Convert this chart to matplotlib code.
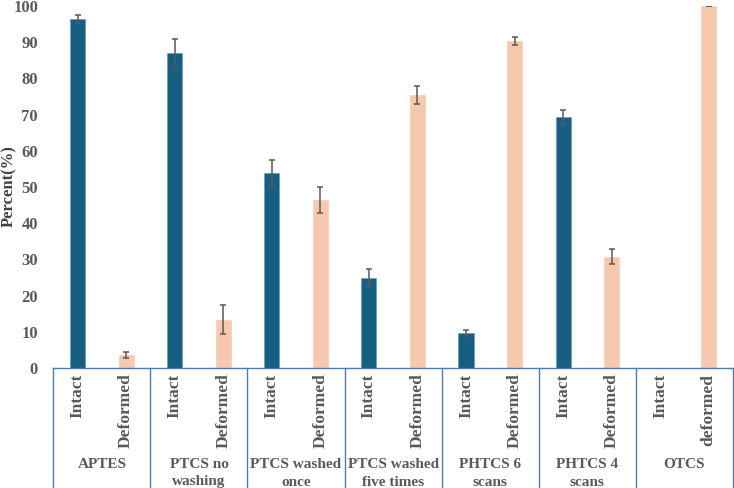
import numpy as np
import matplotlib.pyplot as plt

plt.rcParams['font.family'] = ['Liberation Serif', 'DejaVu Serif']

groups = ['APTES', 'PTCS no\nwashing', 'PTCS washed\nonce', 'PTCS washed\nfive times',
          'PHTCS 6\nscans', 'PHTCS 4\nscans', 'OTCS']
states = ['Intact', 'Deformed', 'Intact', 'Deformed', 'Intact', 'Deformed', 'Intact', 'Deformed',
          'Intact', 'Deformed', 'Intact', 'Deformed', 'Intact', 'deformed']
intact = [96.4, 86.9, 53.9, 24.9, 9.7, 69.4, 0]
intact_err = [1.0, 4.0, 3.6, 2.5, 0.9, 1.9, 0]
deformed = [3.7, 13.3, 46.3, 75.4, 90.4, 30.8, 100]
deformed_err = [0.85, 4.0, 3.6, 2.5, 1.1, 2.0, 0]

blue = '#175F82'
peach = '#F7C8AD'
line_col = '#4A7EA8'
grey = '#595959'

fig = plt.figure(figsize=(7.34, 4.88), dpi=100)
ax = fig.add_axes([53.3 / 734, 120 / 488, (733 - 53.3) / 734, 362 / 488])

n = len(groups)
x_int = np.arange(n) * 2 + 0.5
x_def = np.arange(n) * 2 + 1.5
w = 0.31
ax.bar(x_int, intact, w, color=blue, edgecolor='#5a9ac0', linewidth=0.4)
ax.bar(x_def, deformed, w, color=peach, edgecolor=peach, linewidth=0.4)

# error bars (skip the empty OTCS intact bar)
xs = np.concatenate([x_int, x_def])
ys = np.array(intact + deformed)
es = np.array(intact_err + deformed_err)
keep = ys > 0
ax.errorbar(xs[keep], ys[keep], yerr=es[keep], fmt='none', ecolor=grey,
            elinewidth=1.1, capsize=2.5, capthick=1.1)

ax.set_xlim(0, 2 * n)
ax.set_ylim(0, 100)
ax.set_yticks(range(0, 101, 10))
ax.tick_params(axis='y', length=0, pad=11, labelsize=12, labelcolor=grey)
for t in ax.get_yticklabels():
    t.set_fontweight('bold')

ax.set_xticks(np.arange(2 * n) + 0.5)
ax.set_xticklabels(states, rotation=90, fontsize=12.5, fontweight='bold', color=grey)
ax.tick_params(axis='x', length=0, pad=4)

for s in ['top', 'right', 'left']:
    ax.spines[s].set_visible(False)
ax.spines['bottom'].set_color(line_col)
ax.spines['bottom'].set_linewidth(1.0)

# group separators below the axis
trans = ax.get_xaxis_transform()
for i in range(n + 1):
    ax.plot([2 * i, 2 * i], [0, -0.35], transform=trans, color=line_col, lw=1.0, clip_on=False)
for i, g in enumerate(groups):
    ax.text(2 * i + 1, -0.25, g, transform=trans, ha='center', va='top', fontsize=11,
            fontweight='bold', color=grey, linespacing=1.4)

fig.text(9 / 734, 1 - 186 / 488, 'Percent(%)', rotation=90, ha='center', va='center',
         fontsize=12, fontweight='bold', color='#404040')

fig.savefig('out.png', dpi=100)
